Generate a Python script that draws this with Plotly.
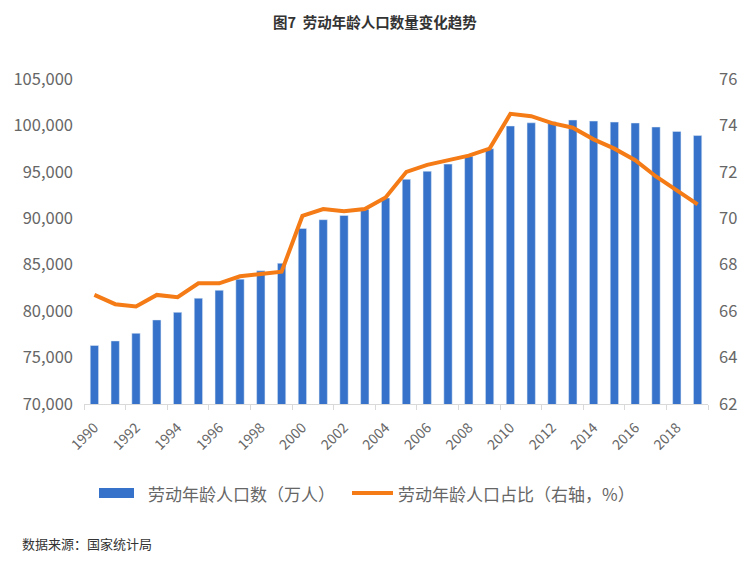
import plotly.graph_objects as go

years = list(range(1990, 2020))
pop = [76306, 76791, 77614, 79051, 79868, 81393, 82245, 83448, 84338, 85157,
       88910, 89849, 90302, 90976, 92184, 94197, 95068, 95833, 96680, 97484,
       99938, 100283, 100403, 100582, 100469, 100361, 100260, 99829, 99357, 98910]
share = [66.7, 66.3, 66.2, 66.7, 66.6, 67.2, 67.2, 67.5, 67.6, 67.7,
         70.1, 70.4, 70.3, 70.4, 70.9, 72.0, 72.3, 72.5, 72.7, 73.0,
         74.5, 74.4, 74.1, 73.9, 73.4, 73.0, 72.5, 71.8, 71.2, 70.6]
tick_years = list(range(1990, 2020, 2))
boundaries = [y - 0.5 for y in range(1990, 2021, 2)]

title_text = "图7  劳动年龄人口数量变化趋势"
bar_name = "劳动年龄人口数（万人）"
line_name = "劳动年龄人口占比（右轴，%）"
source_text = "数据来源：国家统计局"

BLUE = "#3672C9"
ORANGE = "#F47B16"
GRAY = "#666666"
FONT = "Noto Sans CJK SC"

W, H = 755, 561
l, r, t, b = 84, 47, 79, 157
pw, ph = W - l - r, H - t - b


def px(x):
    return (x - l) / pw


def py(y):
    return (H - b - y) / ph


fig = go.Figure()
fig.add_trace(go.Bar(x=years, y=pop, width=0.4, marker_color=BLUE, name=bar_name,
                     showlegend=False))
fig.add_trace(go.Scatter(x=years, y=share, yaxis="y2", mode="lines",
                         line=dict(color=ORANGE, width=4), name=line_name,
                         showlegend=False))

fig.update_layout(
    width=W, height=H,
    margin=dict(l=l, r=r, t=t, b=b),
    paper_bgcolor="white", plot_bgcolor="white",
    font=dict(family=FONT, color=GRAY),
    xaxis=dict(range=[1989.5, 2019.5], tickvals=tick_years, ticktext=[str(y) for y in tick_years],
               tickangle=-45, tickfont=dict(size=14, color=GRAY), ticks="", ticklabelstandoff=9,
               showline=True, linecolor="#D9D9D9", linewidth=1, showgrid=False, zeroline=False,
               minor=dict(tickvals=boundaries, ticks="outside", ticklen=5, tickcolor="#D9D9D9")),
    yaxis=dict(range=[70000, 105000], dtick=5000, tickformat=",", showgrid=False, zeroline=False,
               tickfont=dict(size=16.5, color=GRAY), ticklabelstandoff=10),
    yaxis2=dict(range=[62, 76], dtick=2, overlaying="y", side="right", showgrid=False,
                zeroline=False, tickfont=dict(size=16.5, color=GRAY), ticklabelstandoff=10),
    annotations=[
        dict(text="<b>" + title_text + "</b>", x=px(375), y=py(22), xanchor="center",
             font=dict(size=14.5, color="#333333")),
        dict(text=bar_name, x=px(146), y=py(493), xanchor="left",
             font=dict(size=17, color=GRAY)),
        dict(text=line_name, x=px(396), y=py(493), xanchor="left",
             font=dict(size=17, color=GRAY)),
        dict(text=source_text, x=px(20), y=py(543), xanchor="left",
             font=dict(size=13, color="#333333")),
    ],
)
for a in fig.layout.annotations:
    a.xref = "paper"
    a.yref = "paper"
    a.yanchor = "middle"
    a.showarrow = False

fig.add_shape(type="rect", xref="paper", yref="paper", x0=px(99), x1=px(134), y0=py(498), y1=py(488),
              fillcolor=BLUE, line_width=0)
fig.add_shape(type="line", xref="paper", yref="paper", x0=px(352), x1=px(393), y0=py(493), y1=py(493),
              line=dict(color=ORANGE, width=4))

fig.write_html("out.html", config={"displayModeBar": False},
               post_script="document.body.style.margin='0';document.body.style.padding='0';")
